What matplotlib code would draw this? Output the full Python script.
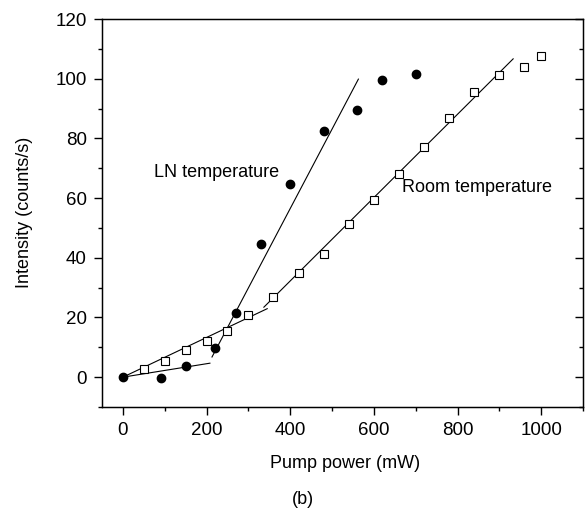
#!/usr/bin/env python
'''
Emission intensity vs pump power, LN and room temperature, with linear fits
'''

import numpy as np
import matplotlib.pyplot as plt
from matplotlib.ticker import MultipleLocator

# LN temperature data (filled circles)
ln_power = [0, 90, 150, 220, 270, 330, 400, 480, 560, 620, 700]
ln_counts = [0, -0.3, 3.8, 9.8, 21.6, 44.6, 64.6, 82.5, 89.5, 99.5, 101.5]

# room temperature data (open squares), the 0 mW point sits under the LN one
rt_power = [50, 100, 150, 200, 250, 300, 360, 420, 480, 540, 600, 660,
            720, 780, 840, 900, 960, 1000]
rt_counts = [2.8, 5.3, 9.2, 12.0, 15.3, 20.7, 27.0, 34.8, 41.4, 51.4,
             59.3, 68.2, 77.2, 86.9, 95.6, 101.1, 104.0, 107.7]

# linear fits: (slope, intercept, x start, x end)
fits = [
    (0.0225, 0.0, 0, 208),      # LN, below threshold
    (0.266, -49.9, 213, 563),   # LN, above threshold
    (0.0665, 0.0, 0, 345),      # room, below threshold
    (0.1396, -23.6, 337, 933),  # room, above threshold
]


def main():
    plt.rcParams['font.family'] = ['Liberation Sans', 'DejaVu Sans']

    fig = plt.figure(figsize=(5.88, 5.12), dpi=100)
    ax = fig.add_axes([102/588, 1 - 407/512, 481/588, 388/512])

    for slope, icpt, x0, x1 in fits:
        xs = np.array([x0, x1])
        ax.plot(xs, slope * xs + icpt, color='black', lw=0.8)

    ax.plot(rt_power, rt_counts, ls='none', marker='s', ms=6,
            mfc='white', mec='black', mew=0.8)
    ax.plot(ln_power, ln_counts, ls='none', marker='o', ms=6,
            mfc='black', mec='black')

    ax.text(74, 68.7, 'LN temperature', fontsize=13, va='center', ha='left')
    ax.text(667, 63.4, 'Room temperature', fontsize=13, va='center', ha='left')

    ax.set_xlim(-50, 1100)
    ax.set_ylim(-10, 120)
    ax.xaxis.set_major_locator(MultipleLocator(200))
    ax.xaxis.set_minor_locator(MultipleLocator(100))
    ax.yaxis.set_major_locator(MultipleLocator(20))
    ax.yaxis.set_minor_locator(MultipleLocator(10))

    ax.tick_params(which='both', direction='out', top=False, right=False,
                   labelsize=13.5, width=1)
    ax.tick_params(which='major', length=6)
    ax.tick_params(which='minor', length=3)
    ax.tick_params(axis='x', pad=5)
    ax.tick_params(axis='y', pad=5)
    for sp in ax.spines.values():
        sp.set_linewidth(1)

    # inward ticks on the right spine
    ax2 = ax.twinx()
    ax2.set_ylim(ax.get_ylim())
    ax2.yaxis.set_major_locator(MultipleLocator(20))
    ax2.yaxis.set_minor_locator(MultipleLocator(10))
    ax2.tick_params(which='both', direction='in', labelright=False, width=1)
    ax2.tick_params(which='major', length=6)
    ax2.tick_params(which='minor', length=3)

    fig.text(345/588, 1 - 464/512, 'Pump power (mW)', fontsize=13,
             ha='center', va='center')
    fig.text(25/588, 1 - 212/512, 'Intensity (counts/s)', fontsize=13,
             ha='center', va='center', rotation=90)
    fig.text(303/588, 1 - 499/512, '(b)', fontsize=13, ha='center', va='center')

    fig.savefig('out.png', dpi=100)
    plt.close(fig)


if __name__ == '__main__':
    main()
